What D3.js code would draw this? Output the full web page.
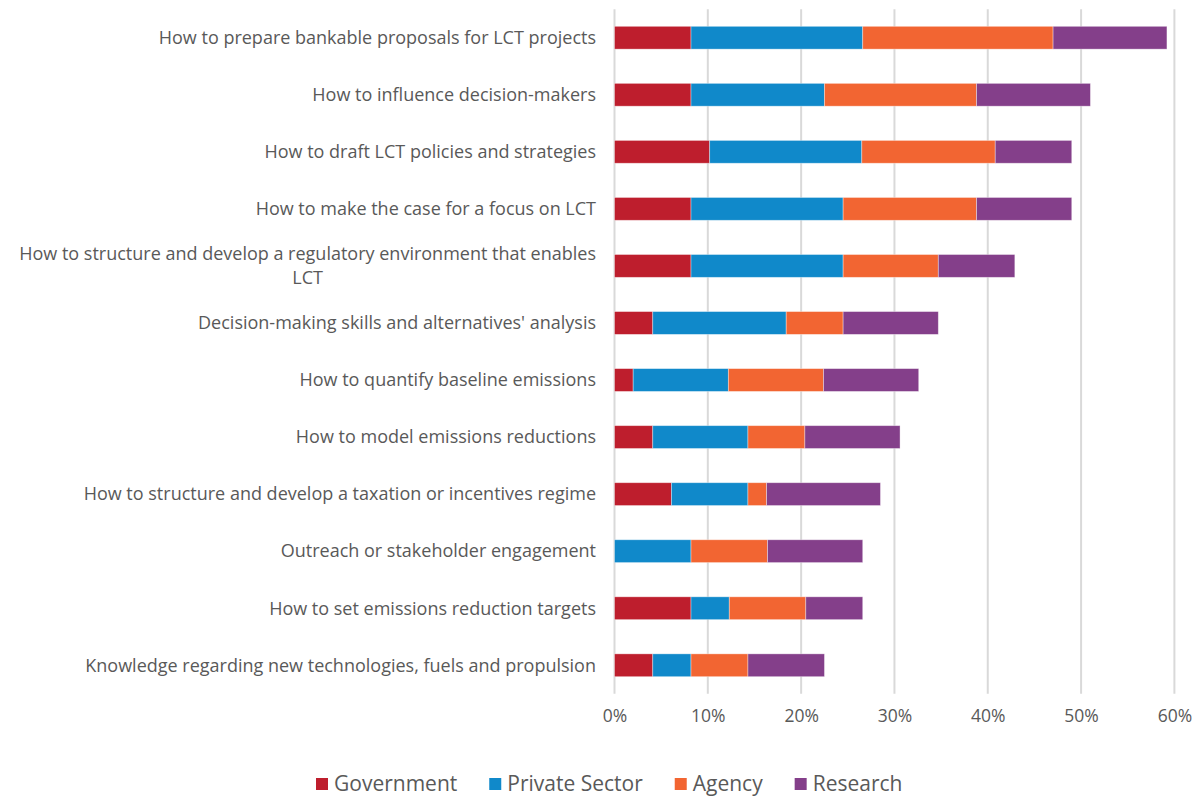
<!DOCTYPE html>
<html>
<head>
<meta charset="utf-8">
<script src="https://cdn.jsdelivr.net/npm/d3@7"></script>
<style>
  html, body { margin: 0; padding: 0; background: #fff; }
  svg { display: block; font-family: "Open Sans", Lato, sans-serif; }
</style>
</head>
<body>
<svg id="chart" width="1198" height="796"></svg>
<script>
// Training needs by topic, share of respondents (%) per stakeholder group
const categories = [
  "How to prepare bankable proposals for LCT projects",
  "How to influence decision-makers",
  "How to draft LCT policies and strategies",
  "How to make the case for a focus on LCT",
  "How to structure and develop a regulatory environment that enables LCT",
  "Decision-making skills and alternatives' analysis",
  "How to quantify baseline emissions",
  "How to model emissions reductions",
  "How to structure and develop a taxation or incentives regime",
  "Outreach or stakeholder engagement",
  "How to set emissions reduction targets",
  "Knowledge regarding new technologies, fuels and propulsion"
];
const seriesNames = ["Government", "Private Sector", "Agency", "Research"];
const government   = [8.2, 8.2, 10.2, 8.2, 8.2, 4.1, 2.0, 4.1, 6.1, 0.0, 8.2, 4.1];
const privateSector = [18.4, 14.3, 16.3, 16.3, 16.3, 14.3, 10.2, 10.2, 8.2, 8.2, 4.1, 4.1];
const agency       = [20.4, 16.3, 14.3, 14.3, 10.2, 6.1, 10.2, 6.1, 2.0, 8.2, 8.2, 6.1];
const research     = [12.2, 12.2, 8.2, 10.2, 8.2, 10.2, 10.2, 10.2, 12.2, 10.2, 6.1, 8.2];
const tickValues = [0, 10, 20, 30, 40, 50, 60];
const colors = ["#BE1E2D", "#1089CA", "#F26532", "#843F8A"];

const seriesValues = [government, privateSector, agency, research];
const rows = categories.map((c, i) => {
  const r = { category: c };
  seriesNames.forEach((s, k) => { r[s] = seriesValues[k][i]; });
  return r;
});

const svg = d3.select("#chart");
const textColor = "#595959";
const font = "'Open Sans', Lato, sans-serif";

const x = d3.scaleLinear().domain([0, 60]).range([614.5, 1174.4]);
const y = d3.scaleBand().domain(categories).range([9.2, 693.8])
  .paddingInner(0.6).paddingOuter(0.3);

// vertical gridlines
svg.append("g")
  .selectAll("line")
  .data(tickValues)
  .join("line")
  .attr("x1", d => x(d)).attr("x2", d => x(d))
  .attr("y1", y.range()[0]).attr("y2", y.range()[1])
  .attr("stroke", "#d9d9d9")
  .attr("stroke-width", 2);

// stacked bars
const stacked = d3.stack().keys(seriesNames)(rows);
svg.append("g")
  .selectAll("g")
  .data(stacked)
  .join("g")
  .attr("fill", (d, i) => colors[i])
  .selectAll("rect")
  .data(d => d.filter(p => p[1] - p[0] > 0))
  .join("rect")
  .attr("x", d => x(d[0]))
  .attr("width", d => x(d[1]) - x(d[0]))
  .attr("y", d => y(d.data.category))
  .attr("height", y.bandwidth())
  .attr("stroke", "rgba(255,255,255,0.45)")
  .attr("stroke-width", 0.8);

// x axis tick labels
const xAxis = d3.axisBottom(x)
  .tickValues(tickValues)
  .tickFormat(d => d + "%")
  .tickSize(0)
  .tickPadding(0);
const gx = svg.append("g")
  .attr("transform", `translate(0, 710)`)
  .call(xAxis);
gx.select(".domain").remove();
gx.selectAll("text")
  .attr("fill", textColor)
  .attr("font-size", 17.5)
  .attr("font-family", font)
  .attr("dy", "0.71em");

// category labels (y axis), wrapped and right-aligned as a block
const yAxis = d3.axisLeft(y).tickSize(0).tickPadding(0);
const gy = svg.append("g")
  .attr("transform", `translate(596, 0)`)
  .call(yAxis);
gy.select(".domain").remove();
const maxLabelWidth = 588;
const lineHeight = 24;
gy.selectAll(".tick text")
  .attr("fill", textColor)
  .attr("font-size", 18)
  .attr("font-family", font)
  .each(function () {
    const t = d3.select(this);
    const words = t.text().split(/\s+/);
    t.text(null);
    const lines = [];
    let line = [];
    const probe = t.append("tspan");
    words.forEach(w => {
      line.push(w);
      probe.text(line.join(" "));
      if (probe.node().getComputedTextLength() > maxLabelWidth && line.length > 1) {
        line.pop();
        lines.push(line.join(" "));
        line = [w];
      }
    });
    lines.push(line.join(" "));
    probe.remove();
    if (lines.length === 1) {
      t.attr("text-anchor", "end").attr("dy", "0.35em").text(lines[0]);
      return;
    }
    // measure widest line to center lines within the block
    const widths = lines.map(l => {
      const s = t.append("tspan").text(l);
      const w = s.node().getComputedTextLength();
      s.remove();
      return w;
    });
    const blockW = d3.max(widths);
    t.attr("text-anchor", "middle").attr("dy", null);
    const offset0 = -(lines.length - 1) / 2 * lineHeight;
    lines.forEach((l, i) => {
      t.append("tspan")
        .attr("x", -blockW / 2)
        .attr("y", offset0 + i * lineHeight)
        .attr("dy", "0.35em")
        .text(l);
    });
  });

// legend
const legendItems = seriesNames.map((s, i) => ({ name: s, color: colors[i] }));
const legend = svg.append("g").attr("font-family", font);
const legendY = 784;
let lx = 316;
legendItems.forEach(item => {
  const g = legend.append("g").attr("transform", `translate(${lx}, ${legendY})`);
  g.append("rect")
    .attr("x", 0).attr("y", -6)
    .attr("width", 12).attr("height", 12)
    .attr("fill", item.color);
  const txt = g.append("text")
    .attr("x", 18).attr("y", 0).attr("dy", "0.35em")
    .attr("font-size", 21)
    .attr("fill", textColor)
    .text(item.name);
  lx += 18 + txt.node().getComputedTextLength() + 32;
});
</script>
</body>
</html>
